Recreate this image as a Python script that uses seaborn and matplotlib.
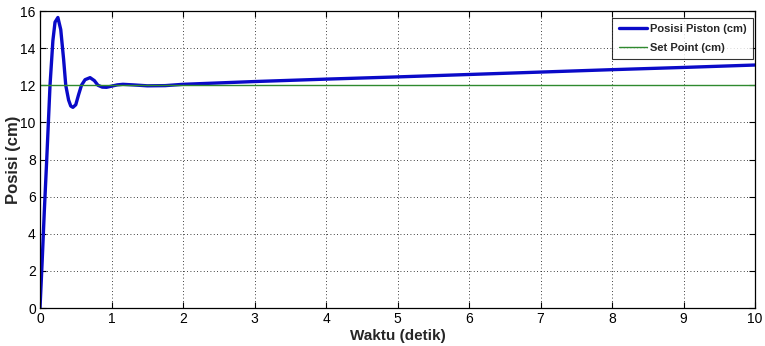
import matplotlib
matplotlib.use("Agg")
import matplotlib.pyplot as plt
import seaborn as sns
import pandas as pd

# Data
time_s = [0.0, 0.03, 0.06, 0.094, 0.14, 0.18, 0.21, 0.25, 0.29, 0.33, 0.36, 0.40, 0.43, 0.46,
          0.50, 0.54, 0.58, 0.63, 0.70, 0.76, 0.81, 0.87, 0.93, 1.0, 1.08, 1.16, 1.3, 1.5,
          1.75, 2.0, 3.0, 4.0, 5.0, 6.0, 7.0, 8.0, 9.0, 10.0]
piston_cm = [0.0, 2.5, 5.2, 8.0, 12.0, 14.4, 15.4, 15.65, 15.0, 13.4, 12.0, 11.2, 10.88, 10.81,
             10.95, 11.5, 12.0, 12.3, 12.41, 12.25, 12.0, 11.9, 11.89, 11.95, 12.02, 12.05, 12.02, 11.97,
             11.98, 12.05, 12.2, 12.33, 12.45, 12.58, 12.71, 12.84, 12.96, 13.09]
setpoint_t = [0.0, 10.0]
setpoint_cm = [12.0, 12.0]

xticks = [0, 1, 2, 3, 4, 5, 6, 7, 8, 9, 10]
yticks = [0, 2, 4, 6, 8, 10, 12, 14, 16]

df_p = pd.DataFrame({"t": time_s, "y": piston_cm})
df_s = pd.DataFrame({"t": setpoint_t, "y": setpoint_cm})

sns.set_style("white")
plt.rcParams['font.family'] = ['Liberation Sans', 'DejaVu Sans']

fig = plt.figure(figsize=(7.65, 3.46), dpi=100)
ax = fig.add_axes([0.0523, 0.1098, 0.9347, 0.8584])

sns.lineplot(data=df_p, x="t", y="y", ax=ax, color="#0a0ac8", linewidth=2.4,
             label="Posisi Piston (cm)", sort=False)
sns.lineplot(data=df_s, x="t", y="y", ax=ax, color="#2f8a2f", linewidth=1.0,
             label="Set Point (cm)", sort=False)

ax.set_xlim(0, 10)
ax.set_ylim(0, 16)
ax.set_xticks(xticks)
ax.set_yticks(yticks)
ax.set_xticklabels([str(v) for v in xticks], fontsize=10)
ax.set_yticklabels([str(v) for v in yticks], fontsize=10)
ax.grid(True, color="black", linestyle=(0, (1, 3)), linewidth=0.6)
ax.tick_params(axis="both", direction="in", length=4, width=0.8, colors="black",
               pad=3, top=True, right=True, bottom=True, left=True)
for s in ax.spines.values():
    s.set_color("black")
    s.set_linewidth(0.9)

ax.set_xlabel("Waktu (detik)", fontsize=11, fontweight="bold", labelpad=2)
ax.set_ylabel("Posisi (cm)", fontsize=12, fontweight="bold")
ax.yaxis.set_label_coords(-0.027, 0.5)

leg = ax.legend(loc="upper right", bbox_to_anchor=(0.997, 0.976), fontsize=8,
                frameon=True, fancybox=False, edgecolor="black", borderpad=0.55,
                handlelength=2.6, handletextpad=0.25, labelspacing=0.75, borderaxespad=0)
leg.get_frame().set_linewidth(0.8)
for t in leg.get_texts():
    t.set_fontweight("bold")

fig.savefig("out.png", dpi=100)
